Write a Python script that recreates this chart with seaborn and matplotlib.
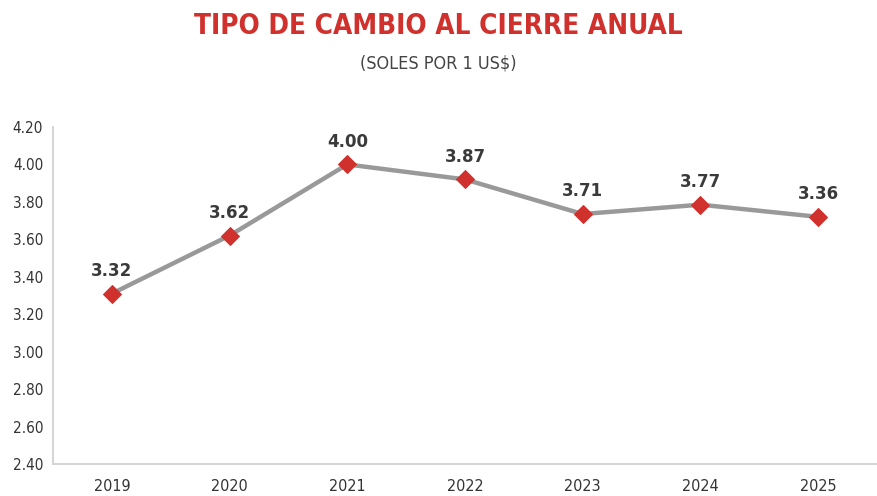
import matplotlib
matplotlib.use("Agg")
import matplotlib.pyplot as plt
import numpy as np
import pandas as pd
import seaborn as sns

years = ["2019", "2020", "2021", "2022", "2023", "2024", "2025"]
rates = [3.31, 3.62, 4.00, 3.92, 3.735, 3.785, 3.72]
labels = ["3.32", "3.62", "4.00", "3.87", "3.71", "3.77", "3.36"]
y_ticks = [2.40, 2.60, 2.80, 3.00, 3.20, 3.40, 3.60, 3.80, 4.00, 4.20]

sns.set_style("white")
plt.rcParams['font.family'] = ['DejaVu Sans']
plt.rcParams['font.stretch'] = 'condensed'

data = pd.DataFrame({"pos": np.arange(len(years)), "rate": rates})

fig = plt.figure(figsize=(8.77, 4.96), dpi=100)
ax = fig.add_axes([0.0604, 0.0645, 0.9396, 0.6795])

sns.lineplot(data=data, x="pos", y="rate", ax=ax, color="#999999", linewidth=3.2,
             marker="D", markersize=9, markerfacecolor="#d0312d",
             markeredgecolor="#d0312d", zorder=3)

for x, y, t in zip(data["pos"], rates, labels):
    ax.annotate(t, (x, y), xytext=(0, 10), textcoords="offset points",
                ha="center", va="bottom", fontsize=12, fontweight="bold",
                color="#3a3a3a", family=["DejaVu Sans"], fontstretch="normal")

ax.set_xlim(-0.5, len(years) - 0.5)
ax.set_ylim(2.40, 4.20)
ax.set_yticks(y_ticks)
ax.set_yticklabels([f"{v:.2f}" for v in y_ticks])
ax.set_xticks(np.arange(len(years)))
ax.set_xticklabels(years)
ax.set_xticks(np.arange(len(years) + 1) - 0.5, minor=True)
ax.tick_params(axis="x", which="major", length=0, pad=11, labelsize=11.5, labelcolor="#333333")
ax.tick_params(axis="x", which="minor", length=6, width=1.2, color="#cccccc", direction="out")
ax.tick_params(axis="y", length=5, width=1.2, color="#cccccc", labelsize=11,
               labelcolor="#333333", pad=2, direction="out")
ax.set_xlabel("")
ax.set_ylabel("")
sns.despine(ax=ax, top=True, right=True)
for s in ["left", "bottom"]:
    ax.spines[s].set_color("#d4d4d4")
    ax.spines[s].set_linewidth(1.4)

fig.text(0.5, 0.948, "TIPO DE CAMBIO AL CIERRE ANUAL", ha="center", va="center",
         fontsize=20, fontweight="bold", color="#d0312d")
fig.text(0.5, 0.872, "(SOLES POR 1 US$)", ha="center", va="center",
         fontsize=13, color="#444444")

fig.savefig("out.png", dpi=100)
